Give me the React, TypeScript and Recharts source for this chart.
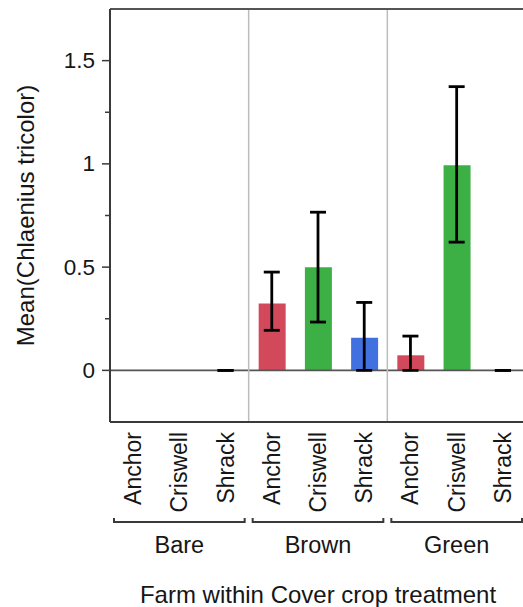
import { ComposedChart, Bar, Line, Cell, ErrorBar, XAxis, YAxis, ReferenceLine } from 'recharts';

const treatments = ['Bare', 'Brown', 'Green'];
const farms = ['Anchor', 'Criswell', 'Shrack'];
const farmColors = ['#d2495b', '#3cb044', '#4170e0'];

// mean per treatment, farm order as in `farms` (null = no data)
const bareMeans = [null, null, 0];
const brownMeans = [0.324, 0.5, 0.158];
const greenMeans = [0.073, 0.993, 0];

const bareLower = [null, null, 0];
const brownLower = [0.194, 0.234, 0];
const greenLower = [0, 0.621, 0];

const bareUpper = [null, null, 0];
const brownUpper = [0.476, 0.766, 0.329];
const greenUpper = [0.166, 1.374, 0];

const yTicks = [0, 0.25, 0.5, 0.75, 1, 1.25, 1.5];
const yLabels: Record<string, string> = { '0': '0', '0.5': '0.5', '1': '1', '1.5': '1.5' };

const means = [bareMeans, brownMeans, greenMeans];
const lowers = [bareLower, brownLower, greenLower];
const uppers = [bareUpper, brownUpper, greenUpper];

const rows = treatments.flatMap((t, ti) =>
  farms.map((f, fi) => {
    const m = means[ti][fi];
    const lo = lowers[ti][fi];
    const hi = uppers[ti][fi];
    return {
      key: `${t}-${f}`,
      treatment: t,
      farm: f,
      color: farmColors[fi],
      mean: m,
      err: m == null || lo == null || hi == null ? null : [m - lo, hi - m],
    };
  })
);

const font = "'Liberation Sans', Arial, sans-serif";
const ink = '#161616';
const frame = '#3a3a3a';

const YTick = (props: any) => {
  const { x, y, payload } = props;
  const label = yLabels[String(payload.value)];
  const major = label !== undefined;
  return (
    <g>
      <line x1={x - (major ? 8 : 5)} x2={x} y1={y} y2={y} stroke={frame} strokeWidth={1.5} />
      {major && (
        <text x={x - 15} y={y} textAnchor='end' dominantBaseline='central' fontSize={22.5} fontFamily={font} fill={ink}>
          {label}
        </text>
      )}
    </g>
  );
};

const XTick = (props: any) => {
  const { x, y, payload, index } = props;
  const [group, farm] = String(payload.value).split('-');
  const axisW = typeof props.width === 'number' ? props.width : 416;
  const half = (axisW / 3) / 2 - 4;
  const by = 522;
  return (
    <g>
      <text
        transform={`translate(${x},${y + 10}) rotate(-90)`}
        textAnchor='end'
        dominantBaseline='central'
        fontSize={23}
        fontFamily={font}
        fill={ink}
      >
        {farm}
      </text>
      {index % 3 === 1 && (
        <g>
          <path
            d={`M${x - half},${by - 4} L${x - half},${by} L${x + half},${by} L${x + half},${by - 4}`}
            fill='none'
            stroke={frame}
            strokeWidth={2}
          />
          <text x={x} y={by + 31} textAnchor='middle' fontSize={23.5} fontFamily={font} fill={ink}>
            {group}
          </text>
        </g>
      )}
    </g>
  );
};

export default function App() {
  return (
    <div style={{ position: 'absolute', left: 0, top: 0, width: 523, height: 607, overflow: 'hidden', background: '#fff' }}>
      <ComposedChart width={530} height={607} data={rows} margin={{ top: 9, right: 4, left: 0, bottom: 0 }} barSize={27}>
        <ReferenceLine y={0} stroke='#555' strokeWidth={1.6} />
        <ReferenceLine x='Brown-Anchor' position='start' stroke='#bdbdbd' strokeWidth={1.5} />
        <ReferenceLine x='Green-Anchor' position='start' stroke='#bdbdbd' strokeWidth={1.5} />
        <ReferenceLine y={1.75} stroke='#555' strokeWidth={2} />
        <XAxis
          dataKey='key'
          type='category'
          height={185}
          interval={0}
          tickSize={0}
          tickMargin={0}
          tickLine={false}
          tick={<XTick />}
          axisLine={{ stroke: frame, strokeWidth: 2 }}
          label={{
            value: 'Farm within Cover crop treatment',
            position: 'insideBottom',
            offset: 4,
            fontSize: 24,
            fontFamily: font,
            fill: ink,
          }}
        />
        <YAxis
          type='number'
          width={110}
          domain={[-0.25, 1.75]}
          ticks={yTicks}
          interval={0}
          tickSize={0}
          tickMargin={0}
          tickLine={false}
          tick={<YTick />}
          axisLine={{ stroke: frame, strokeWidth: 2 }}
          label={{
            value: 'Mean(Chlaenius tricolor)',
            angle: -90,
            position: 'insideLeft',
            offset: 25,
            textAnchor: 'middle',
            fontSize: 24,
            fontFamily: font,
            fill: ink,
          }}
        />
        <Bar dataKey='mean' isAnimationActive={false}>
          {rows.map((r) => (
            <Cell key={r.key} fill={r.color} />
          ))}
        </Bar>
        <Line dataKey='mean' stroke='none' dot={false} activeDot={false} legendType='none' isAnimationActive={false}>
          <ErrorBar dataKey='err' width={8} stroke='#000' strokeWidth={2.8} isAnimationActive={false} />
        </Line>
      </ComposedChart>
    </div>
  );
}
